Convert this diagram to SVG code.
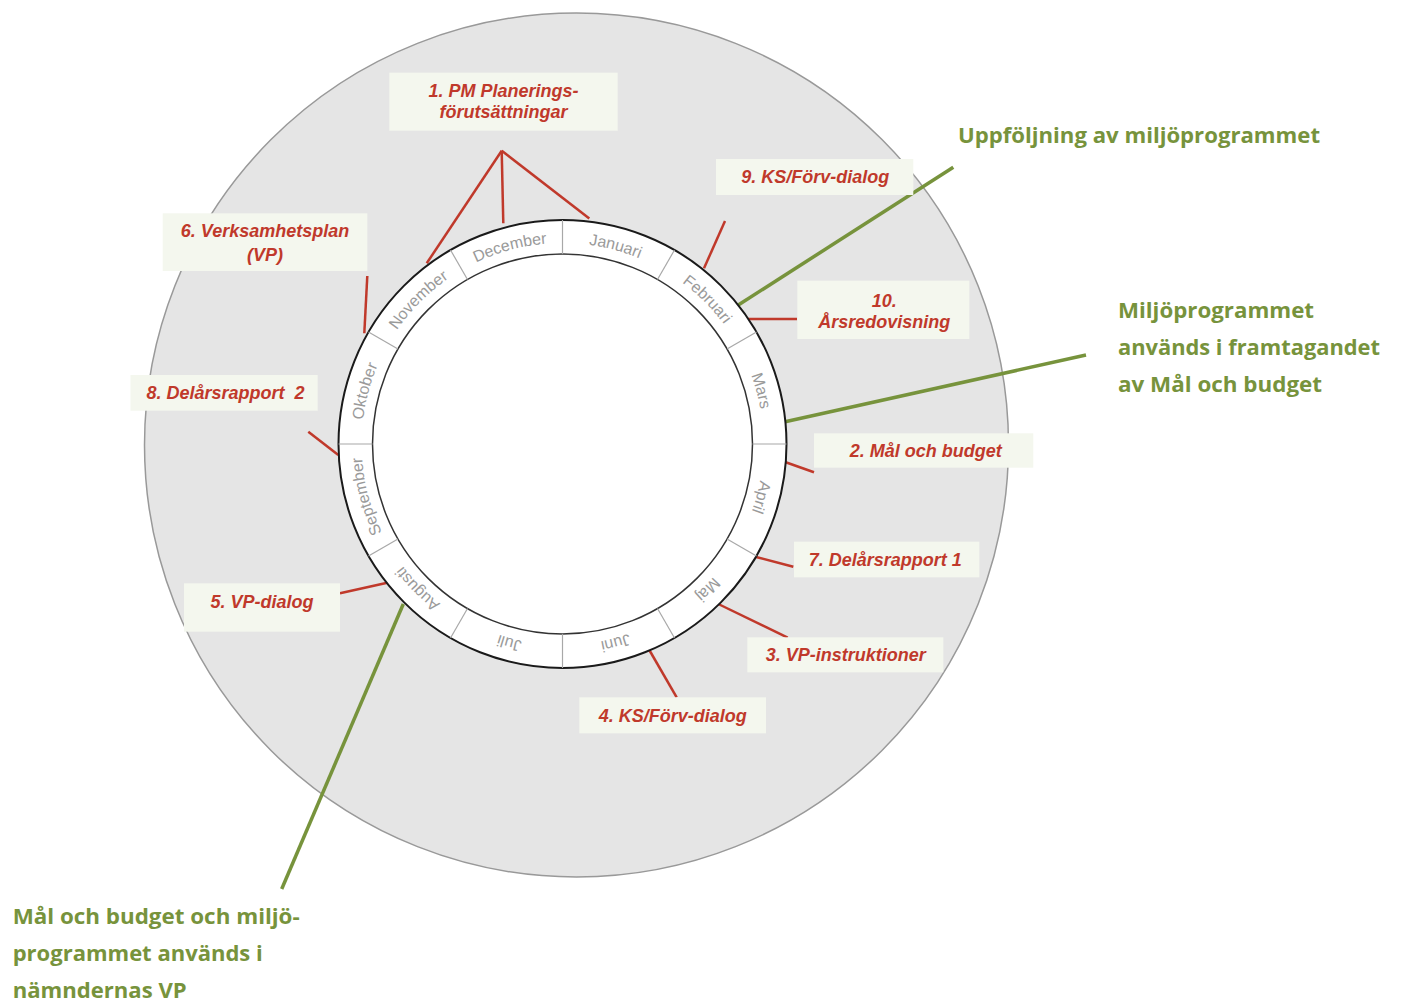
<svg xmlns="http://www.w3.org/2000/svg" xmlns:xlink="http://www.w3.org/1999/xlink" width="1401" height="1006" viewBox="0 0 1401 1006">
<defs>
<style>
.box{fill:#f4f7ee;}
.lbl{font-family:"Liberation Sans",Arial,sans-serif;font-weight:bold;font-style:italic;font-size:18px;fill:#c0392b;text-anchor:middle;white-space:pre;}
.red{stroke:#c0392b;stroke-width:2.5;fill:none;}
.grn{stroke:#77933c;stroke-width:3.5;fill:none;}
.gtxt{font-family:"Open Sans",Lato,sans-serif;font-weight:bold;font-size:22px;fill:#77933c;}
.mon{font-family:"Liberation Sans",Arial,sans-serif;font-size:16px;fill:#9a9a9a;}
.sep{stroke:#a8a8a8;stroke-width:1.2;}
</style>
<path id="mpath" d="M562.5,243 A201,201 0 0 1 562.5,645 A201,201 0 0 1 562.5,243"/>
</defs>
<rect width="1401" height="1006" fill="#ffffff"/>
<g id="background">
<circle cx="576.5" cy="445" r="432" fill="#e5e5e5" stroke="#999999" stroke-width="1.5"/>
</g>
<g id="connectors">
<line class="red" x1="501.7" y1="150.7" x2="426.7" y2="263.3"/>
<line class="red" x1="501.7" y1="150.7" x2="503.3" y2="223.3"/>
<line class="red" x1="501.7" y1="150.7" x2="589.3" y2="218.5"/>
<line class="red" x1="367.3" y1="276" x2="364.3" y2="333.3"/>
<line class="red" x1="308.3" y1="431.7" x2="338.3" y2="455"/>
<line class="red" x1="725" y1="221" x2="704" y2="268.3"/>
<line class="red" x1="745" y1="319" x2="797" y2="319"/>
<line class="red" x1="784.3" y1="461.7" x2="814" y2="472.3"/>
<line class="red" x1="755" y1="556.7" x2="793.3" y2="566.7"/>
<line class="red" x1="718.3" y1="604" x2="787.7" y2="637.7"/>
<line class="red" x1="649.3" y1="650" x2="676.7" y2="697.3"/>
<line class="red" x1="340" y1="593.3" x2="387.3" y2="582.7"/>
<line class="grn" x1="953.3" y1="167.3" x2="738.3" y2="305"/>
<line class="grn" x1="1086" y1="355" x2="784" y2="422"/>
<line class="grn" x1="403.3" y1="604" x2="281.7" y2="889"/>
</g>
<g id="wheel">
<circle cx="562.5" cy="444" r="224" fill="#ffffff" stroke="#1a1a1a" stroke-width="2"/>
<circle cx="562.5" cy="444" r="190" fill="#ffffff" stroke="#333333" stroke-width="1.5"/>
<g class="sep">
<line x1="562.5" y1="254" x2="562.5" y2="220" transform="rotate(0 562.5 444)"/>
<line x1="562.5" y1="254" x2="562.5" y2="220" transform="rotate(30 562.5 444)"/>
<line x1="562.5" y1="254" x2="562.5" y2="220" transform="rotate(60 562.5 444)"/>
<line x1="562.5" y1="254" x2="562.5" y2="220" transform="rotate(90 562.5 444)"/>
<line x1="562.5" y1="254" x2="562.5" y2="220" transform="rotate(120 562.5 444)"/>
<line x1="562.5" y1="254" x2="562.5" y2="220" transform="rotate(150 562.5 444)"/>
<line x1="562.5" y1="254" x2="562.5" y2="220" transform="rotate(180 562.5 444)"/>
<line x1="562.5" y1="254" x2="562.5" y2="220" transform="rotate(210 562.5 444)"/>
<line x1="562.5" y1="254" x2="562.5" y2="220" transform="rotate(240 562.5 444)"/>
<line x1="562.5" y1="254" x2="562.5" y2="220" transform="rotate(270 562.5 444)"/>
<line x1="562.5" y1="254" x2="562.5" y2="220" transform="rotate(300 562.5 444)"/>
<line x1="562.5" y1="254" x2="562.5" y2="220" transform="rotate(330 562.5 444)"/>
</g>
<text class="mon" text-anchor="middle"><textPath xlink:href="#mpath" href="#mpath" startOffset="4.1667%">Januari</textPath></text>
<text class="mon" text-anchor="middle"><textPath xlink:href="#mpath" href="#mpath" startOffset="12.5%">Februari</textPath></text>
<text class="mon" text-anchor="middle"><textPath xlink:href="#mpath" href="#mpath" startOffset="20.8333%">Mars</textPath></text>
<text class="mon" text-anchor="middle"><textPath xlink:href="#mpath" href="#mpath" startOffset="29.1667%">April</textPath></text>
<text class="mon" text-anchor="middle"><textPath xlink:href="#mpath" href="#mpath" startOffset="37.5%">Maj</textPath></text>
<text class="mon" text-anchor="middle"><textPath xlink:href="#mpath" href="#mpath" startOffset="45.8333%">Juni</textPath></text>
<text class="mon" text-anchor="middle"><textPath xlink:href="#mpath" href="#mpath" startOffset="54.1667%">Juli</textPath></text>
<text class="mon" text-anchor="middle"><textPath xlink:href="#mpath" href="#mpath" startOffset="62.5%">Augusti</textPath></text>
<text class="mon" text-anchor="middle"><textPath xlink:href="#mpath" href="#mpath" startOffset="70.8333%">September</textPath></text>
<text class="mon" text-anchor="middle"><textPath xlink:href="#mpath" href="#mpath" startOffset="79.1667%">Oktober</textPath></text>
<text class="mon" text-anchor="middle"><textPath xlink:href="#mpath" href="#mpath" startOffset="87.5%">November</textPath></text>
<text class="mon" text-anchor="middle"><textPath xlink:href="#mpath" href="#mpath" startOffset="95.8333%">December</textPath></text>
</g>
<g id="n1">
<rect class="box" x="389.3" y="72.7" width="228.4" height="58"/>
<text class="lbl" x="503.5" y="96.7">1. PM Planerings-</text>
<text class="lbl" x="503.5" y="118.3">förutsättningar</text>
</g>
<g id="n6">
<rect class="box" x="162.7" y="213.3" width="204.6" height="57.7"/>
<text class="lbl" x="265" y="236.7">6. Verksamhetsplan</text>
<text class="lbl" x="265" y="260.7">(VP)</text>
</g>
<g id="n8">
<rect class="box" x="130.5" y="375" width="187.2" height="35.7"/>
<text class="lbl" x="225.5" y="399">8. Delårsrapport  2</text>
</g>
<g id="n9">
<rect class="box" x="716" y="159" width="197.3" height="36"/>
<text class="lbl" x="815.3" y="183.3">9. KS/Förv-dialog</text>
</g>
<g id="n10">
<rect class="box" x="797.3" y="280.7" width="172" height="58.3"/>
<text class="lbl" x="884.2" y="306.7">10.</text>
<text class="lbl" x="884.2" y="327.5">Årsredovisning</text>
</g>
<g id="n2">
<rect class="box" x="814" y="433.3" width="219.3" height="34.4"/>
<text class="lbl" x="925.8" y="456.7">2. Mål och budget</text>
</g>
<g id="n7">
<rect class="box" x="794" y="541.7" width="185.3" height="35.6"/>
<text class="lbl" x="885.3" y="566">7. Delårsrapport 1</text>
</g>
<g id="n3">
<rect class="box" x="747.3" y="637.3" width="196" height="35"/>
<text class="lbl" x="845.8" y="661">3. VP-instruktioner</text>
</g>
<g id="n4">
<rect class="box" x="579.3" y="697.3" width="186.7" height="36"/>
<text class="lbl" x="672.7" y="721.7">4. KS/Förv-dialog</text>
</g>
<g id="n5">
<rect class="box" x="184" y="583.3" width="156" height="48.4"/>
<text class="lbl" x="262" y="608.3">5. VP-dialog</text>
</g>
<g id="g1">
<text class="gtxt" x="958" y="143" textLength="362" lengthAdjust="spacingAndGlyphs">Uppföljning av miljöprogrammet</text>
</g>
<g id="g2">
<text class="gtxt" x="1118" y="318" textLength="196" lengthAdjust="spacingAndGlyphs">Miljöprogrammet</text>
<text class="gtxt" x="1118" y="355" textLength="262" lengthAdjust="spacingAndGlyphs">används i framtagandet</text>
<text class="gtxt" x="1118" y="392" textLength="204" lengthAdjust="spacingAndGlyphs">av Mål och budget</text>
</g>
<g id="g3">
<text class="gtxt" x="12.7" y="924" textLength="287" lengthAdjust="spacingAndGlyphs">Mål och budget och miljö-</text>
<text class="gtxt" x="12.7" y="961" textLength="250" lengthAdjust="spacingAndGlyphs">programmet används i</text>
<text class="gtxt" x="12.7" y="998" textLength="174" lengthAdjust="spacingAndGlyphs">nämndernas VP</text>
</g>
</svg>
